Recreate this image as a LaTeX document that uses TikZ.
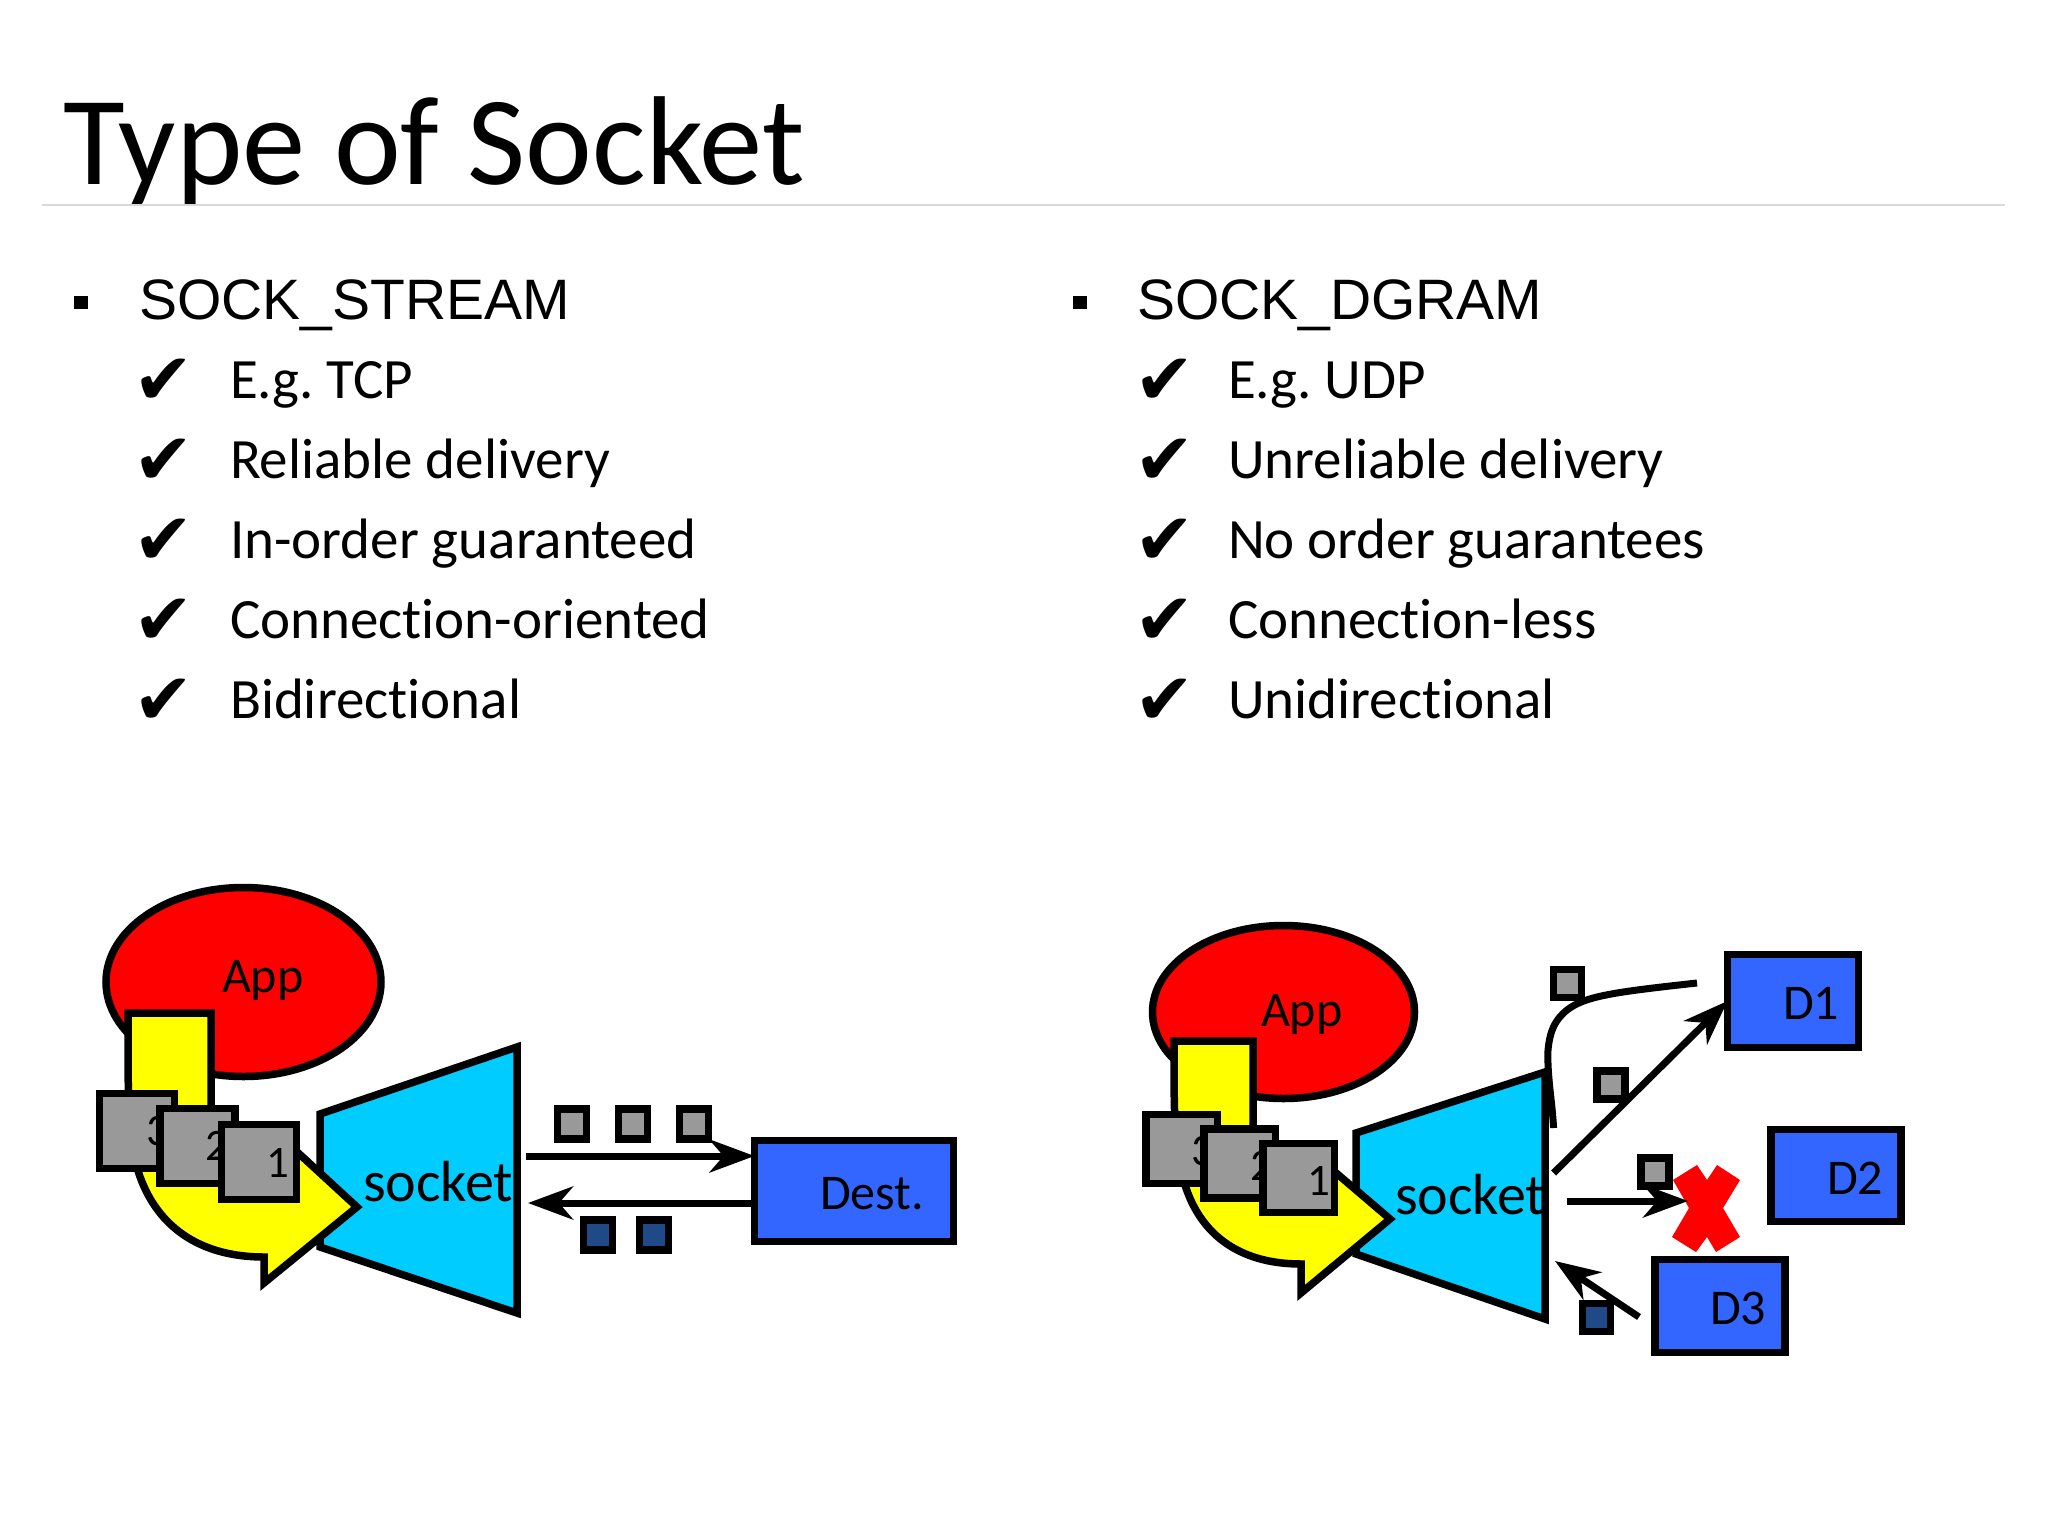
\documentclass[tikz,border=0pt]{standalone}
\usepackage{fontspec}
\usetikzlibrary{arrows.meta}
\setmainfont{Carlito}[Ligatures={NoCommon,NoRequired,NoContextual}]
\newfontfamily\arialf{Liberation Sans}
\newfontfamily\dejav{DejaVu Sans}
\definecolor{sockblue}{HTML}{00CCFF}
\definecolor{destblue}{HTML}{3366FF}
\definecolor{pktgray}{HTML}{999999}
\definecolor{pktnavy}{HTML}{204A87}
\definecolor{appred}{HTML}{FF0000}
\definecolor{arrowyellow}{HTML}{FFFF00}
\definecolor{rulegray}{HTML}{D9D9D9}
\frenchspacing
\tikzset{
  x=1pt,y=-1pt,
  txt/.style={anchor=base west,inner sep=0pt,outer sep=0pt,text=black},
  title/.style={txt,font=\fontsize{126.5}{130}\selectfont},
  head/.style={txt,font=\arialf\fontsize{57}{60}\selectfont},
  item/.style={txt,font=\fontsize{57}{60}\selectfont},
  tick/.style={txt,font=\dejav\fontsize{72}{76}\selectfont},
  lab/.style={txt,font=\fontsize{50}{54}\selectfont},
  biglab/.style={txt,font=\fontsize{58}{60}\selectfont},
  numlab/.style={txt,font=\fontsize{45}{50}\selectfont},
  blt/.style={fill=black,draw=none,minimum width=14pt,minimum height=13pt,inner sep=0pt,outer sep=0pt},
  outl/.style={draw=black,line width=7.5pt,miter limit=10},
  app/.style={outl,fill=appred},
  yel/.style={outl,fill=arrowyellow},
  sock/.style={outl,fill=sockblue},
  pkt/.style={outl,fill=pktgray,rectangle,minimum width=29pt,minimum height=30pt,inner sep=0pt,outer sep=0pt},
  nvy/.style={pkt,fill=pktnavy},
  smallpkt/.style={pkt,minimum width=28pt,minimum height=28pt},
  smallnvy/.style={smallpkt,fill=pktnavy},
  bigpkt/.style={outl,fill=pktgray,rectangle,minimum width=75pt,minimum height=75pt,inner sep=0pt,outer sep=0pt},
  midpkt/.style={bigpkt,minimum width=71.5pt,minimum height=69pt},
  dst/.style={outl,fill=destblue,rectangle,inner sep=0pt,outer sep=0pt},
  conn/.style={draw=black,line width=7pt,-{Stealth[length=45pt,width=33pt,inset=14pt]}},
  plainconn/.style={draw=black,line width=7pt,line cap=butt},
}
\begin{document}
\begin{tikzpicture}
\useasboundingbox (0,0) rectangle (2048,1536);
\fill[white] (0,0) rectangle (2048,1536);
% title
\node[title] (ttl) at (63,184) {Type of Socket};
\coordinate (ruleL) at (42,205);
\coordinate (ruleR) at (2005,205);
\draw[draw=rulegray,line width=2.5pt] (ruleL) -- (ruleR);
% left column
\node[blt] (bl) at (81,302) {};
\node[head] (hl) at (139,319) {SOCK\_STREAM};
\foreach \n/\y/\t in {a/398/E.g. TCP,b/478/Reliable delivery,c/558/In-order guaranteed,d/638/Connection-oriented,e/718/Bidirectional}{
  \node[tick] (tl\n) at (133,\y+6) {✔};
  \node[item] (il\n) at (230,\y) {\t};
}
% right column
\node[blt] (br) at (1080,302) {};
\node[head] (hr) at (1137,319) {SOCK\_DGRAM};
\foreach \n/\y/\t in {a/398/E.g. UDP,b/478/Unreliable delivery,c/558/No order guarantees,d/638/Connection-less,e/718/Unidirectional}{
  \node[tick] (tr\n) at (1134,\y+6) {✔};
  \node[item] (ir\n) at (1228,\y) {\t};
}
% ---- left diagram
\draw[app] (243.5,982) ellipse [x radius=137.5,y radius=94.5];
\node[lab] (appL) at (222,992) {App};
\draw[sock] (320,1114) -- (517,1047) -- (517,1313) -- (320,1247) -- cycle;
\draw[yel] (128,1013) -- (211,1013) -- (211,1130) -- (270,1150) -- (295,1150) -- (357,1207) -- (264,1283) -- (264,1257)
   .. controls (195,1257) and (150,1222) .. (135,1160) .. controls (128,1130) and (128,1100) .. (128,1013) -- cycle;
\node[bigpkt] (lb3) at (137,1131) {};
\node[numlab] (ln3) at (146,1145) {3};
\node[bigpkt] (lb2) at (197.5,1146) {};
\node[numlab] (ln2) at (205,1160) {2};
\node[bigpkt] (lb1) at (259,1162) {};
\node[numlab] (ln1) at (266,1177) {1};
\node[biglab] (sockL) at (363,1201) {socket};
\node[dst,minimum width=199pt,minimum height=101pt] (dest) at (854,1191) {};
\node[lab] (destT) at (820,1209) {Dest.};
\coordinate (lout) at (526,1160);
\coordinate (lin) at (528,1207);
\coordinate (loutb) at (526,1156);
\coordinate (linb) at (528,1203);
\draw[conn] (loutb) -- (loutb -| dest.west);
\draw[conn] (linb -| dest.west) -- (linb);
\node[pkt] (p1) at (572,1124) {};
\node[pkt] (p2) at (633,1124) {};
\node[pkt] (p3) at (694,1124) {};
\node[nvy] (q1) at (598,1235) {};
\node[nvy] (q2) at (654,1235) {};
% ---- right diagram
\draw[app] (1283.5,1012) ellipse [x radius=131,y radius=86.5];
\node[lab] (appR) at (1261,1026) {App};
\draw[sock] (1356,1133) -- (1545,1072) -- (1545,1319) -- (1356,1254) -- cycle;
\draw[yel] (1174,1041) -- (1253,1041) -- (1253,1150) -- (1300,1165) -- (1335,1172) -- (1390,1219) -- (1301,1293) -- (1301,1264)
   .. controls (1240,1264) and (1195,1235) .. (1181,1170) .. controls (1174,1140) and (1174,1110) .. (1174,1041) -- cycle;
\node[midpkt] (rb3) at (1181.5,1149) {};
\node[numlab] (rn3) at (1191,1165) {3};
\node[midpkt] (rb2) at (1239.5,1163.5) {};
\node[numlab] (rn2) at (1250,1180) {2};
\node[midpkt] (rb1) at (1298.5,1178) {};
\node[numlab] (rn1) at (1307,1195) {1};
\node[biglab] (sockR) at (1395,1214) {socket};
\node[dst,minimum width=131pt,minimum height=93pt] (d1) at (1793,1001) {};
\node[lab] (d1T) at (1783,1019) {D1};
\node[dst,minimum width=130pt,minimum height=92pt] (d2) at (1836,1175.5) {};
\node[lab] (d2T) at (1827,1194) {D2};
\node[dst,minimum width=130pt,minimum height=93pt] (d3) at (1720,1306) {};
\node[lab] (d3T) at (1710,1324) {D3};
\fill[appred] (1697,1165) -- (1707,1180) -- (1717,1165) -- (1740,1180) -- (1723,1208) -- (1740,1237) -- (1716,1252) -- (1707,1237) -- (1696,1252) -- (1672,1237) -- (1689,1208) -- (1673,1180) -- cycle;
\coordinate (cs) at (1553.6,1128);
\coordinate (ce) at (1697,983);
\draw[plainconn] (cs) .. controls (1552,1100) and (1547,1075) .. (1548,1050) .. controls (1550,1030) and (1555,1020) .. (1567,1010) .. controls (1585,996) and (1615,992) .. (ce);
\coordinate (a1) at (1553.6,1173);
\coordinate (a2) at (1567,1201);
\coordinate (a2e) at (1688,1201);
\coordinate (a3) at (1639,1317);
\coordinate (a3e) at (1555,1261);
\draw[conn] (a1) -- (d1.west);
\draw[conn] (a2) -- (a2e);
\draw[conn] (a3) -- (a3e);
\node[smallpkt] (r1) at (1567.5,983.5) {};
\node[smallpkt] (r2) at (1611,1085) {};
\node[smallpkt] (r3) at (1655,1172) {};
\node[smallnvy] (r4) at (1596.5,1317.5) {};
\end{tikzpicture}
\end{document}
